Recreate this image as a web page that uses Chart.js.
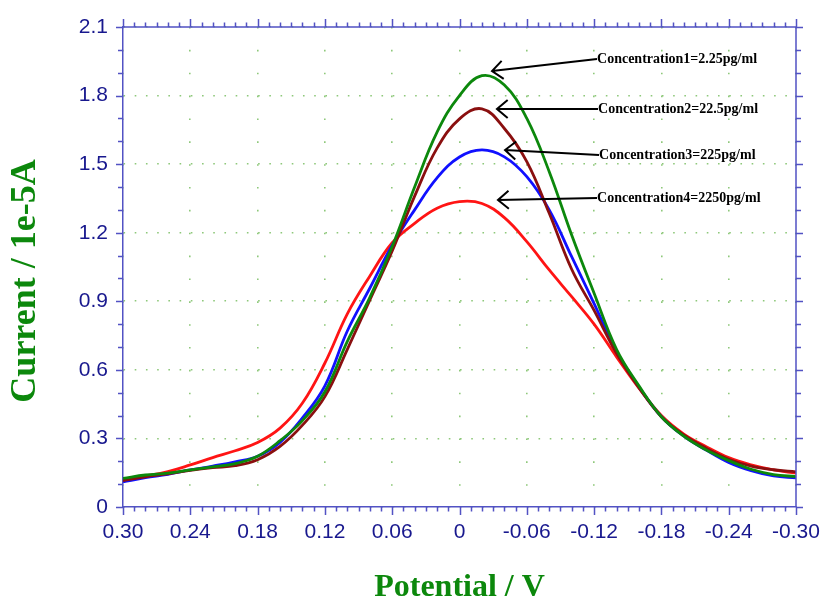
<!DOCTYPE html>
<html>
<head>
<meta charset="utf-8">
<script src="https://cdn.jsdelivr.net/npm/chart.js@4.4.1/dist/chart.umd.min.js"></script>
<style>
  html, body { margin: 0; padding: 0; background: #fff; }
  #wrap { width: 821px; height: 604px; }
</style>
</head>
<body>
<div id="wrap"><canvas id="dpv-chart" width="821" height="604"></canvas></div>
<script>
// ---------------------------------------- | Data

const potentials = [0.30, 0.28, 0.26, 0.24, 0.22, 0.20, 0.18, 0.16, 0.14, 0.12, 0.10, 0.08, 0.06, 0.04, 0.02, 0.00,
  -0.02, -0.04, -0.06, -0.08, -0.10, -0.12, -0.14, -0.16, -0.18, -0.20, -0.22, -0.24, -0.26, -0.28, -0.30]

const conc1 = [0.125, 0.14, 0.148, 0.162, 0.176, 0.19, 0.222, 0.29, 0.378, 0.504, 0.725, 0.916, 1.14, 1.40, 1.64, 1.80,
  1.887, 1.846, 1.70, 1.467, 1.19, 0.935, 0.69, 0.53, 0.395, 0.31, 0.249, 0.203, 0.165, 0.142, 0.133]
const conc2 = [0.115, 0.132, 0.145, 0.16, 0.172, 0.181, 0.207, 0.265, 0.358, 0.483, 0.69, 0.905, 1.12, 1.36, 1.57, 1.698,
  1.742, 1.656, 1.511, 1.285, 1.04, 0.86, 0.672, 0.522, 0.395, 0.315, 0.257, 0.209, 0.179, 0.163, 0.154]
const conc3 = [0.11, 0.128, 0.143, 0.162, 0.179, 0.198, 0.222, 0.283, 0.39, 0.53, 0.77, 0.957, 1.145, 1.30, 1.44, 1.531,
  1.562, 1.532, 1.445, 1.30, 1.095, 0.89, 0.68, 0.525, 0.395, 0.31, 0.249, 0.195, 0.159, 0.136, 0.128]
const conc4 = [0.12, 0.136, 0.155, 0.184, 0.216, 0.246, 0.282, 0.345, 0.455, 0.63, 0.845, 1.01, 1.156, 1.241, 1.307, 1.336,
  1.328, 1.266, 1.161, 1.037, 0.92, 0.80, 0.657, 0.52, 0.40, 0.319, 0.264, 0.216, 0.184, 0.162, 0.148]

const seriesLabels = ["Concentration1=2.25pg/ml", "Concentration2=22.5pg/ml", "Concentration3=225pg/ml", "Concentration4=2250pg/ml"]
const seriesColors = ["#0c880c", "#8a0f0f", "#1010ff", "#ff1414"]

const xTickValues = [0.30, 0.24, 0.18, 0.12, 0.06, 0, -0.06, -0.12, -0.18, -0.24, -0.30]
const xTickLabels = ["0.30", "0.24", "0.18", "0.12", "0.06", "0", "-0.06", "-0.12", "-0.18", "-0.24", "-0.30"]
const yTickValues = [0, 0.3, 0.6, 0.9, 1.2, 1.5, 1.8, 2.1]
const yTickLabels = ["0", "0.3", "0.6", "0.9", "1.2", "1.5", "1.8", "2.1"]

// arrow tip and label anchor, in potential / current units
const notes = [
  { tip: [-0.029, 1.907], at: [-0.1226, 1.960] },
  { tip: [-0.0334, 1.741], at: [-0.1235, 1.741] },
  { tip: [-0.0406, 1.562], at: [-0.1244, 1.540] },
  { tip: [-0.0343, 1.343], at: [-0.1226, 1.352] }
]

// ---------------------------------------- | Styles

const axisColor = "#5252c4"
const labelColor = "#18188e"
const gridColor = "#8ec87a"
const titleColor = "#0c880c"
const sansFont = "'Liberation Sans', Arial, sans-serif"
const serifFont = "'Liberation Serif', 'Times New Roman', serif"

// ---------------------------------------- | Plugins

// ticks on all four sides plus top/right frame and the y title
const frameTicks = {
  id: "frameTicks",
  afterDraw(chart) {
    const { ctx, chartArea: a, scales: { x, y } } = chart
    ctx.save()
    ctx.strokeStyle = axisColor
    ctx.lineWidth = 1.5
    ctx.beginPath()
    ctx.moveTo(a.left, a.top)
    ctx.lineTo(a.right, a.top)
    ctx.lineTo(a.right, a.bottom)
    ctx.stroke()

    ctx.beginPath()
    for (let i = -30; i <= 30; i++) {
      const px = Math.round(x.getPixelForValue(i / 100)) + 0.5
      const len = i % 6 === 0 ? 8 : 4.5
      ctx.moveTo(px, a.bottom)
      ctx.lineTo(px, a.bottom + len)
      ctx.moveTo(px, a.top)
      ctx.lineTo(px, a.top - len)
    }
    for (let j = 0; j <= 21; j++) {
      const py = Math.round(y.getPixelForValue(j / 10)) + 0.5
      const len = j % 3 === 0 ? 7 : 5
      ctx.moveTo(a.left - len, py)
      ctx.lineTo(a.left, py)
      ctx.moveTo(a.right, py)
      ctx.lineTo(a.right + len, py)
    }
    ctx.stroke()

    ctx.translate(26, (a.top + a.bottom) / 2 + 14)
    ctx.rotate(-Math.PI / 2)
    ctx.fillStyle = titleColor
    ctx.font = "bold 36px " + serifFont
    ctx.textAlign = "center"
    ctx.textBaseline = "middle"
    ctx.fillText("Current / 1e-5A", 0, 0)
    ctx.restore()
  }
}

// arrows pointing at each peak with its concentration
const peakNotes = {
  id: "peakNotes",
  afterDatasetsDraw(chart) {
    const { ctx, scales: { x, y } } = chart
    ctx.save()
    ctx.strokeStyle = "#000"
    ctx.fillStyle = "#000"
    ctx.lineWidth = 2
    ctx.font = "bold 14px " + serifFont
    ctx.textBaseline = "middle"
    notes.forEach((note, i) => {
      const tx = x.getPixelForValue(note.tip[0])
      const ty = y.getPixelForValue(note.tip[1])
      const sx = x.getPixelForValue(note.at[0])
      const sy = y.getPixelForValue(note.at[1])
      const ang = Math.atan2(sy - ty, sx - tx)
      ctx.beginPath()
      ctx.moveTo(sx, sy)
      ctx.lineTo(tx, ty)
      ctx.moveTo(tx + 14 * Math.cos(ang - 0.7), ty + 14 * Math.sin(ang - 0.7))
      ctx.lineTo(tx, ty)
      ctx.lineTo(tx + 14 * Math.cos(ang + 0.7), ty + 14 * Math.sin(ang + 0.7))
      ctx.stroke()
      ctx.fillText(seriesLabels[i], sx, sy)
    })
    ctx.restore()
  }
}

// ---------------------------------------- | Chart

const seriesValues = [conc1, conc2, conc3, conc4]

const ctx = document.getElementById("dpv-chart").getContext("2d")

const dpvChart = new Chart(ctx, {
  type: "line",
  data: {
    datasets: seriesValues.map((values, i) => ({
      label: seriesLabels[i],
      data: potentials.map((p, k) => ({ x: p, y: values[k] })),
      borderColor: seriesColors[i],
      backgroundColor: seriesColors[i],
      borderWidth: 2.8,
      pointRadius: 0,
      tension: 0.4,
      fill: false
    }))
  },
  options: {
    responsive: false,
    devicePixelRatio: 1,
    animation: false,
    layout: { padding: { left: 0, top: 27, right: 25, bottom: 0 } },
    plugins: {
      legend: { display: false },
      tooltip: { enabled: false }
    },
    scales: {
      x: {
        type: "linear",
        reverse: true,
        min: -0.3,
        max: 0.3,
        afterBuildTicks: s => { s.ticks = xTickValues.map(v => ({ value: v })) },
        afterFit: s => { s.height = 97; s.paddingLeft = 0; s.paddingRight = 0 },
        ticks: {
          autoSkip: false,
          maxRotation: 0,
          padding: 13,
          color: labelColor,
          font: { family: sansFont, size: 21 },
          callback: (v, i) => xTickLabels[i]
        },
        grid: { color: gridColor, lineWidth: 1.6, drawTicks: false },
        border: { color: axisColor, width: 1.5, dash: [1.6, 21.257] },
        title: {
          display: true,
          text: "Potential / V",
          color: titleColor,
          font: { family: serifFont, size: 32, weight: "bold", lineHeight: 1 },
          padding: { top: 0, bottom: 0 }
        }
      },
      y: {
        type: "linear",
        min: 0,
        max: 2.1,
        afterBuildTicks: s => { s.ticks = yTickValues.map(v => ({ value: v })) },
        afterFit: s => { s.width = 123; s.paddingTop = 0; s.paddingBottom = 0 },
        ticks: {
          autoSkip: false,
          padding: 15,
          color: labelColor,
          font: { family: sansFont, size: 21 },
          callback: (v, i) => yTickLabels[i]
        },
        grid: { color: gridColor, lineWidth: 1.6, drawTicks: false },
        border: { color: axisColor, width: 1.5, dash: [1.6, 9.617] }
      }
    }
  },
  plugins: [peakNotes, frameTicks]
})
</script>
</body>
</html>
